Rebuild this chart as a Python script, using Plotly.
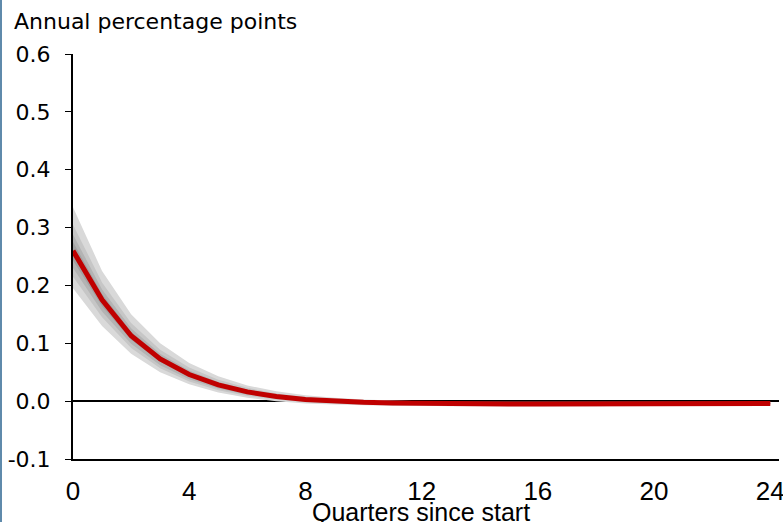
import plotly.graph_objects as go

quarters = list(range(25))

central = [0.260, 0.175, 0.113, 0.073, 0.046, 0.028, 0.016, 0.008, 0.003, 0.000,
           -0.002, -0.003, -0.004, -0.005, -0.005, -0.005, -0.005, -0.005, -0.005, -0.005,
           -0.004, -0.004, -0.004, -0.004, -0.004]

# fan bands (outer -> inner), upper and lower edges
band90_hi = [0.335, 0.225, 0.150, 0.100, 0.066, 0.043, 0.027, 0.017, 0.010, 0.006,
             0.003, 0.001, 0.000, -0.001, -0.001, -0.001, -0.001, -0.001, -0.001, -0.001,
             -0.001, -0.001, -0.001, -0.001, -0.001]
band90_lo = [0.195, 0.130, 0.082, 0.050, 0.029, 0.015, 0.006, 0.000, -0.004, -0.006,
             -0.007, -0.008, -0.008, -0.009, -0.009, -0.009, -0.009, -0.009, -0.009, -0.008,
             -0.008, -0.008, -0.007, -0.007, -0.007]
band70_hi = [0.305, 0.205, 0.135, 0.089, 0.058, 0.037, 0.023, 0.013, 0.007, 0.003,
             0.001, -0.001, -0.002, -0.002, -0.003, -0.003, -0.003, -0.003, -0.003, -0.002,
             -0.002, -0.002, -0.002, -0.002, -0.002]
band70_lo = [0.215, 0.145, 0.092, 0.057, 0.034, 0.019, 0.009, 0.003, -0.002, -0.004,
             -0.006, -0.007, -0.007, -0.008, -0.008, -0.008, -0.008, -0.007, -0.007, -0.007,
             -0.006, -0.006, -0.006, -0.006, -0.006]
band50_hi = [0.288, 0.193, 0.126, 0.082, 0.053, 0.033, 0.020, 0.011, 0.005, 0.002,
             0.000, -0.002, -0.003, -0.003, -0.004, -0.004, -0.004, -0.004, -0.004, -0.003,
             -0.003, -0.003, -0.003, -0.003, -0.003]
band50_lo = [0.230, 0.155, 0.099, 0.062, 0.038, 0.022, 0.011, 0.005, 0.000, -0.003,
             -0.005, -0.006, -0.006, -0.007, -0.007, -0.007, -0.007, -0.006, -0.006, -0.006,
             -0.005, -0.005, -0.005, -0.005, -0.005]
band30_hi = [0.275, 0.185, 0.120, 0.078, 0.050, 0.031, 0.018, 0.010, 0.004, 0.001,
             -0.001, -0.002, -0.003, -0.004, -0.004, -0.004, -0.004, -0.004, -0.004, -0.004,
             -0.004, -0.004, -0.003, -0.003, -0.003]
band30_lo = [0.243, 0.164, 0.106, 0.068, 0.042, 0.025, 0.014, 0.006, 0.001, -0.002,
             -0.004, -0.005, -0.005, -0.006, -0.006, -0.006, -0.006, -0.006, -0.006, -0.006,
             -0.005, -0.005, -0.005, -0.005, -0.005]

x_ticks = [0, 4, 8, 12, 16, 20, 24]
y_ticks = [-0.1, 0.0, 0.1, 0.2, 0.3, 0.4, 0.5, 0.6]
y_tick_text = ["-0.1", "0.0", "0.1", "0.2", "0.3", "0.4", "0.5", "0.6"]

bands = [
    (band90_hi, band90_lo, "#d9d9d9"),
    (band70_hi, band70_lo, "#c6c6c6"),
    (band50_hi, band50_lo, "#b3b3b3"),
    (band30_hi, band30_lo, "#a2a2a2"),
]

fig = go.Figure()
for hi, lo, col in bands:
    fig.add_trace(go.Scatter(x=quarters + quarters[::-1], y=hi + lo[::-1],
                             fill="toself", fillcolor=col, mode="none",
                             line=dict(width=0), hoverinfo="skip", showlegend=False))
fig.add_trace(go.Scatter(x=quarters, y=central, mode="lines",
                         line=dict(color="#c00000", width=5), showlegend=False))

W, H = 783, 522
ml, mr, mt, mb = 73, 4, 54, 63
pw = W - ml - mr
ph = H - mt - mb

narrow = "Liberation Sans Narrow, Liberation Sans, Arial, sans-serif"
wide = "DejaVu Sans, Verdana, sans-serif"

fig.update_layout(
    width=W, height=H,
    margin=dict(l=ml, r=mr, t=mt, b=mb, pad=0),
    paper_bgcolor="white", plot_bgcolor="white",
    showlegend=False,
    xaxis=dict(range=[0, 24.3], tickvals=x_ticks, ticktext=[str(v) for v in x_ticks],
               automargin=False, ticklabeloverflow="allow",
               showgrid=False, zeroline=False, showline=True, linecolor="black", linewidth=2,
               ticks="outside", ticklen=8, tickcolor="rgba(0,0,0,0)",
               tickfont=dict(family=narrow, size=26, color="black")),
    yaxis=dict(range=[-0.1, 0.6], tickvals=y_ticks, ticktext=y_tick_text,
               automargin=False,
               showgrid=False, zeroline=True, zerolinecolor="black", zerolinewidth=2,
               showline=True, linecolor="black", linewidth=2,
               ticks="outside", ticklen=6, tickwidth=1, tickcolor="black",
               ticklabelstandoff=10,
               tickfont=dict(family=wide, size=22, color="black")),
    annotations=[
        dict(text="Annual percentage points", xref="paper", yref="paper",
             x=(12 - ml) / pw, y=1 + (mt - 22) / ph, xanchor="left", yanchor="middle",
             showarrow=False, font=dict(family=wide, size=22, color="black")),
        dict(text="Quarters since start", xref="paper", yref="paper",
             x=(421 - ml) / pw, y=-(512 - (H - mb)) / ph, xanchor="center", yanchor="middle",
             showarrow=False, font=dict(family=narrow, size=25, color="black")),
    ],
    shapes=[dict(type="line", xref="paper", yref="paper",
                 x0=(1 - ml) / pw, x1=(1 - ml) / pw, y0=-mb / ph, y1=1 + mt / ph,
                 line=dict(color="#5f8aab", width=2))],
)

fig.write_html("out.html", config={"displayModeBar": False},
               post_script="document.body.style.margin='0';document.body.style.overflow='hidden';")
